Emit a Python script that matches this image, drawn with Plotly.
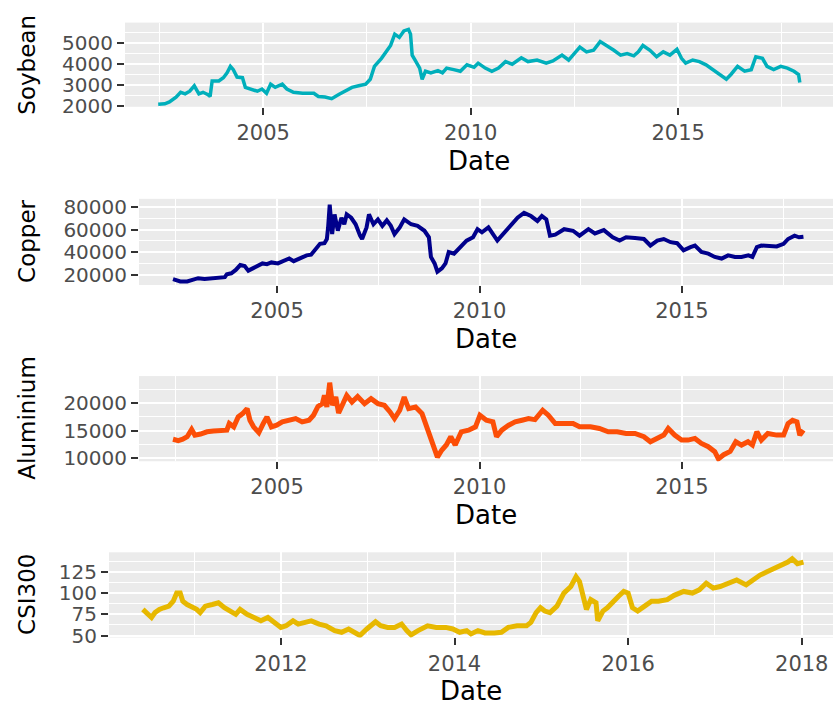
import plotly.graph_objects as go

# decimal years
soy_t = [2002.47, 2002.63, 2002.74, 2002.90, 2003.01, 2003.12, 2003.23, 2003.34, 2003.45, 2003.55,
         2003.66, 2003.72, 2003.77, 2003.93, 2004.04, 2004.13, 2004.21, 2004.28, 2004.37, 2004.50,
         2004.57, 2004.70, 2004.86, 2004.97, 2005.08, 2005.18, 2005.29, 2005.46, 2005.57, 2005.73,
         2005.95, 2006.22, 2006.33, 2006.49, 2006.65, 2006.82, 2006.98, 2007.14, 2007.30, 2007.47,
         2007.58, 2007.68, 2007.85, 2007.96, 2008.07, 2008.17, 2008.28, 2008.39, 2008.50, 2008.55,
         2008.59, 2008.66, 2008.77, 2008.83, 2008.91, 2009.04, 2009.21, 2009.32, 2009.42, 2009.59,
         2009.75, 2009.91, 2010.08, 2010.18, 2010.35, 2010.51, 2010.67, 2010.84, 2011.00, 2011.22,
         2011.38, 2011.60, 2011.82, 2011.98, 2012.20, 2012.36, 2012.52, 2012.63, 2012.79, 2012.96,
         2013.12, 2013.28, 2013.45, 2013.61, 2013.77, 2013.93, 2014.04, 2014.15, 2014.32, 2014.48,
         2014.64, 2014.80, 2014.97, 2015.08, 2015.18, 2015.35, 2015.51, 2015.67, 2015.84, 2016.00,
         2016.16, 2016.27, 2016.43, 2016.60, 2016.76, 2016.87, 2017.03, 2017.14, 2017.30, 2017.47,
         2017.63, 2017.79, 2017.90, 2017.93]
soy_v = [2090, 2110, 2200, 2430, 2660, 2585, 2710, 2970, 2585, 2660,
         2555, 2460, 3200, 3200, 3355, 3585, 3895, 3740, 3385, 3355,
         2895, 2815, 2710, 2815, 2615, 3045, 2895, 3045, 2815, 2660,
         2615, 2615, 2460, 2430, 2355, 2555, 2710, 2895, 2970, 3045,
         3280, 3895, 4280, 4590, 4895, 5435, 5280, 5590, 5665, 5435,
         4435, 4200, 3815, 3280, 3665, 3585, 3695, 3585, 3815, 3740,
         3665, 3970, 3850, 4050, 3815, 3665, 3815, 4125, 4000, 4310,
         4125, 4200, 4050, 4155, 4435, 4200, 4590, 4820, 4590, 4665,
         5080, 4895, 4665, 4435, 4510, 4400, 4590, 4895, 4665, 4355,
         4590, 4435, 4710, 4280, 4050, 4200, 4125, 3970, 3740, 3510,
         3280, 3510, 3895, 3665, 3740, 4355, 4280, 3895, 3740, 3895,
         3815, 3665, 3510, 3125]

cu_t = [2002.43, 2002.61, 2002.78, 2002.89, 2003.05, 2003.21, 2003.38, 2003.54, 2003.71, 2003.76,
        2003.87, 2003.98, 2004.09, 2004.20, 2004.29, 2004.40, 2004.53, 2004.64, 2004.75, 2004.86,
        2005.02, 2005.13, 2005.30, 2005.41, 2005.57, 2005.73, 2005.84, 2005.95, 2006.06, 2006.17,
        2006.23, 2006.26, 2006.30, 2006.36, 2006.42, 2006.50, 2006.59, 2006.66, 2006.72, 2006.83,
        2006.94, 2007.05, 2007.10, 2007.21, 2007.27, 2007.38, 2007.49, 2007.60, 2007.71, 2007.81,
        2007.90, 2008.03, 2008.14, 2008.31, 2008.47, 2008.64, 2008.75, 2008.80, 2008.89, 2008.96,
        2009.07, 2009.16, 2009.24, 2009.37, 2009.51, 2009.68, 2009.84, 2009.95, 2010.06, 2010.22,
        2010.44, 2010.61, 2010.77, 2010.94, 2011.10, 2011.27, 2011.43, 2011.54, 2011.65, 2011.74,
        2011.87, 2012.09, 2012.31, 2012.47, 2012.69, 2012.85, 2013.07, 2013.29, 2013.46, 2013.62,
        2013.84, 2014.06, 2014.22, 2014.39, 2014.55, 2014.72, 2014.88, 2015.04, 2015.21, 2015.32,
        2015.48, 2015.65, 2015.81, 2015.98, 2016.14, 2016.31, 2016.47, 2016.64, 2016.74, 2016.85,
        2016.96, 2017.12, 2017.34, 2017.51, 2017.62, 2017.78, 2017.89, 2018.00]
cu_v = [16600, 14600, 14600, 16000, 17400, 16600, 17400, 17400, 18300, 20900,
        21700, 24600, 28900, 28000, 24000, 26000, 28000, 30300, 29700, 31200,
        30300, 31700, 34600, 32300, 34600, 37400, 38000, 43200, 47500, 48000,
        51700, 61700, 81800, 56000, 73200, 59000, 70300, 64600, 73200, 70300,
        64600, 54600, 51700, 61800, 73200, 64600, 68900, 63200, 68000, 63200,
        56000, 61800, 68900, 64600, 63200, 58900, 53200, 36000, 30300, 23100,
        26000, 30300, 40300, 38900, 44600, 50300, 53200, 60300, 57500, 61800,
        50300, 57500, 63200, 70300, 74600, 71800, 67500, 71800, 68900, 54600,
        55500, 60300, 58900, 54600, 60300, 56600, 59500, 53200, 50300, 53200,
        52600, 51700, 46000, 50300, 51700, 48900, 48000, 41700, 44600, 46000,
        40300, 38900, 36000, 34600, 37400, 36000, 36000, 37400, 36000, 44600,
        46000, 46000, 45200, 47500, 51700, 54600, 53200, 53700]

al_t = [2002.43, 2002.56, 2002.67, 2002.78, 2002.89, 2002.97, 2003.11, 2003.27, 2003.43, 2003.65,
        2003.76, 2003.82, 2003.93, 2004.04, 2004.15, 2004.26, 2004.33, 2004.42, 2004.55, 2004.66,
        2004.75, 2004.86, 2004.99, 2005.13, 2005.30, 2005.46, 2005.62, 2005.79, 2005.90, 2006.01,
        2006.12, 2006.17, 2006.23, 2006.30, 2006.37, 2006.45, 2006.52, 2006.61, 2006.72, 2006.85,
        2006.99, 2007.16, 2007.32, 2007.49, 2007.65, 2007.79, 2007.90, 2008.03, 2008.14, 2008.25,
        2008.42, 2008.58, 2008.69, 2008.80, 2008.89, 2008.96, 2009.07, 2009.18, 2009.29, 2009.40,
        2009.55, 2009.73, 2009.90, 2010.01, 2010.17, 2010.33, 2010.42, 2010.55, 2010.72, 2010.88,
        2011.05, 2011.21, 2011.37, 2011.56, 2011.70, 2011.87, 2012.09, 2012.31, 2012.47, 2012.74,
        2012.96, 2013.18, 2013.40, 2013.62, 2013.84, 2014.06, 2014.22, 2014.39, 2014.55, 2014.66,
        2014.82, 2014.99, 2015.15, 2015.32, 2015.48, 2015.65, 2015.81, 2015.90, 2016.03, 2016.19,
        2016.33, 2016.47, 2016.63, 2016.74, 2016.85, 2016.96, 2017.12, 2017.34, 2017.51, 2017.62,
        2017.73, 2017.84, 2017.91, 2018.00]
al_v = [13450, 13200, 13450, 13900, 15240, 14200, 14400, 14800, 14940, 14940,
        15100, 16300, 15700, 17500, 18100, 19000, 16900, 15700, 14640, 16300,
        17500, 15700, 16000, 16600, 17000, 17200, 16600, 16900, 17800, 19400,
        19900, 21400, 19300, 23700, 19600, 21100, 18200, 19900, 21400, 20200,
        21200, 19900, 20800, 19900, 19600, 18400, 17200, 18700, 21100, 19000,
        19300, 18100, 15700, 13300, 11800, 10200, 11500, 12400, 13900, 12400,
        14800, 15100, 15700, 17800, 16900, 16600, 13900, 15100, 16000, 16600,
        16900, 17200, 17000, 18700, 17800, 16300, 16300, 16300, 15700, 15700,
        15400, 14800, 14800, 14500, 14500, 13900, 13000, 13600, 14200, 15400,
        14200, 13300, 13300, 13600, 12700, 12100, 11200, 9900, 10650, 11250,
        13000, 12400, 13000, 12400, 14800, 13300, 14500, 14200, 14200, 16300,
        16900, 16600, 14200, 15100]

csi_t = [2010.41, 2010.47, 2010.51, 2010.55, 2010.60, 2010.65, 2010.71, 2010.76, 2010.80, 2010.84,
         2010.87, 2010.92, 2010.97, 2011.03, 2011.07, 2011.13, 2011.21, 2011.28, 2011.35, 2011.43,
         2011.48, 2011.53, 2011.61, 2011.69, 2011.77, 2011.85, 2011.93, 2012.00, 2012.06, 2012.14,
         2012.20, 2012.28, 2012.35, 2012.44, 2012.52, 2012.62, 2012.70, 2012.78, 2012.86, 2012.91,
         2012.99, 2013.09, 2013.15, 2013.23, 2013.31, 2013.39, 2013.45, 2013.50, 2013.58, 2013.69,
         2013.79, 2013.90, 2013.98, 2014.06, 2014.14, 2014.19, 2014.27, 2014.35, 2014.46, 2014.54,
         2014.62, 2014.72, 2014.83, 2014.88, 2014.94, 2014.99, 2015.04, 2015.10, 2015.18, 2015.26,
         2015.34, 2015.40, 2015.44, 2015.48, 2015.52, 2015.57, 2015.63, 2015.65, 2015.71, 2015.76,
         2015.84, 2015.89, 2015.95, 2016.00, 2016.05, 2016.11, 2016.19, 2016.27, 2016.35, 2016.45,
         2016.53, 2016.64, 2016.74, 2016.82, 2016.90, 2016.98, 2017.06, 2017.14, 2017.25, 2017.36,
         2017.44, 2017.52, 2017.60, 2017.68, 2017.76, 2017.84, 2017.89, 2017.95, 2018.02]
csi_v = [80.8, 75.0, 71.2, 77.0, 80.8, 82.7, 84.6, 90.4, 100.0, 100.0,
         90.4, 86.5, 84.6, 80.8, 77.0, 84.6, 86.5, 88.5, 82.7, 78.8,
         75.0, 80.8, 75.0, 71.2, 67.3, 71.2, 65.4, 59.6, 61.5, 67.3,
         63.5, 65.4, 67.3, 63.5, 61.5, 55.8, 53.8, 57.7, 53.8, 50.0,
         57.7, 66.2, 61.5, 59.6, 59.6, 63.5, 55.8, 50.8, 55.8, 61.5,
         59.6, 59.6, 57.7, 53.8, 55.8, 51.9, 55.8, 53.0, 53.0, 53.8,
         59.6, 61.5, 61.5, 65.4, 77.0, 82.7, 78.8, 77.0, 84.6, 100.0,
         107.7, 119.2, 113.5, 94.2, 80.8, 92.3, 88.5, 67.3, 78.8, 82.7,
         92.3, 96.2, 101.9, 100.0, 82.7, 78.8, 84.6, 90.4, 90.4, 92.3,
         97.3, 101.9, 100.0, 103.8, 111.5, 105.8, 107.7, 111.5, 115.4, 109.6,
         115.4, 121.2, 125.0, 128.8, 132.7, 136.5, 140.4, 134.6, 136.5]

W, H = 833, 718
FONT = "DejaVu Sans"

# (t, v, colour, width, name, left px, top px, bottom px, xrange, x dtick, yrange, y dtick)
panels = [
    (soy_t, soy_v, "#00AFBB", 3.5, "Soybean", 125, 19, 105, [2001.67, 2018.73], 5, [1967, 5986], 1000),
    (cu_t, cu_v, "#00008B", 4, "Copper", 139, 199, 287, [2001.59, 2018.73], 5, [11430, 86850], 20000),
    (al_t, al_v, "#FC4E07", 5, "Aluminium", 139, 380, 467, [2001.59, 2018.73], 5, [9464, 24900], 5000),
    (csi_t, csi_v, "#E7B800", 5, "CSI300", 109, 560, 647, [2010.02, 2018.36], 2, [47.7, 148], 25),
]

fig = go.Figure()
annotations = []
for i, (t, v, col, lw, name, left, top, bot, xr, xd, yr, yd) in enumerate(panels):
    n = "" if i == 0 else str(i + 1)
    fig.add_trace(go.Scatter(x=t, y=v, mode="lines", line=dict(color=col, width=lw),
                             xaxis="x" + n, yaxis="y" + n, showlegend=False))
    common = dict(showgrid=True, gridcolor="white", gridwidth=2, zeroline=False, showline=False,
                  ticks="outside", ticklen=7, tickwidth=1.5, tickcolor="#333333", tickformat="d")
    fig.update_layout({
        "xaxis" + n: dict(domain=[left / W, 1], range=xr, anchor="y" + n, tickmode="linear",
                          tick0=2010, dtick=xd,
                          tickfont=dict(family=FONT, size=21, color="#4D4D4D"),
                          minor=dict(dtick=xd / 2, showgrid=True, gridcolor="white", gridwidth=1.2),
                          **common),
        "yaxis" + n: dict(domain=[1 - bot / H, 1 - top / H], range=yr, anchor="x" + n,
                          tickmode="linear", tick0=0, dtick=yd,
                          tickfont=dict(family=FONT, size=20, color="#4D4D4D"),
                          minor=dict(dtick=yd / 2, showgrid=True, gridcolor="white", gridwidth=1.2),
                          **common),
    })
    annotations.append(dict(text=name, textangle=-90, x=27 / W, y=1 - (top + bot) / 2 / H,
                            xref="paper", yref="paper", xanchor="center", yanchor="middle",
                            showarrow=False, font=dict(family=FONT, size=23, color="black")))
    annotations.append(dict(text="Date", x=(left + W) / 2 / W, y=1 - (bot + 55) / H,
                            xref="paper", yref="paper", xanchor="center", yanchor="middle",
                            showarrow=False, font=dict(family=FONT, size=26, color="black")))

fig.update_layout(width=W, height=H, margin=dict(l=0, r=0, t=0, b=0),
                  plot_bgcolor="#EBEBEB", paper_bgcolor="white",
                  annotations=annotations)

# drop the page's default 8px body margin so the figure fills the window
fig.write_html("out.html", config={"displayModeBar": False},
               post_script="document.body.style.margin='0';")
